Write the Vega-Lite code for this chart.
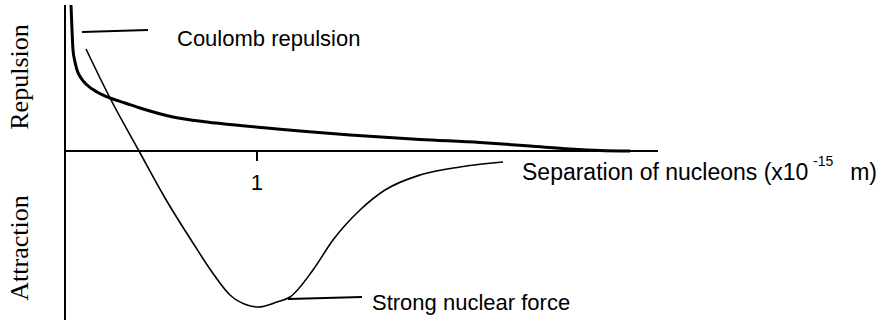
{
  "$schema": "https://vega.github.io/schema/vega-lite/v6.json",
  "width": 883,
  "height": 324,
  "autosize": "none",
  "padding": 0,
  "background": "white",
  "config": {"view": {"stroke": null}},
  "datasets": {
    "coulomb": [
      {"x": 0.03125, "y": 146}, {"x": 0.0365, "y": 121}, {"x": 0.0417, "y": 101},
      {"x": 0.0521, "y": 89}, {"x": 0.0625, "y": 81}, {"x": 0.0833, "y": 73},
      {"x": 0.1146, "y": 66}, {"x": 0.1667, "y": 59}, {"x": 0.2344, "y": 53},
      {"x": 0.3125, "y": 48}, {"x": 0.3906, "y": 43}, {"x": 0.5625, "y": 34},
      {"x": 0.7396, "y": 29}, {"x": 0.9115, "y": 25.5}, {"x": 1.0521, "y": 23},
      {"x": 1.2240, "y": 20}, {"x": 1.4844, "y": 16}, {"x": 1.849, "y": 11.5},
      {"x": 2.1615, "y": 8.5}, {"x": 2.4219, "y": 5}, {"x": 2.6302, "y": 2},
      {"x": 2.7865, "y": 0.5}, {"x": 2.9427, "y": 0}
    ],
    "strong": [
      {"x": 0.1094, "y": 102}, {"x": 0.2344, "y": 53}, {"x": 0.3854, "y": 0},
      {"x": 0.5208, "y": -47}, {"x": 0.6667, "y": -92}, {"x": 0.7656, "y": -121},
      {"x": 0.8594, "y": -144}, {"x": 0.9479, "y": -154}, {"x": 1.0052, "y": -156},
      {"x": 1.1042, "y": -151}, {"x": 1.1719, "y": -146}, {"x": 1.2917, "y": -119},
      {"x": 1.3958, "y": -89}, {"x": 1.5365, "y": -59}, {"x": 1.6667, "y": -39},
      {"x": 1.849, "y": -24}, {"x": 2.0573, "y": -16}, {"x": 2.2813, "y": -11}
    ],
    "rules": [
      {"x": 0, "x2": 0, "y": 146, "y2": -169},
      {"x": 0, "x2": 3.0885, "y": 0, "y2": 0},
      {"x": 1, "x2": 1, "y": 0, "y2": -10},
      {"x": 0.0885, "x2": 0.4323, "y": 119, "y2": 121},
      {"x": 1.1615, "x2": 1.5469, "y": -148, "y2": -146}
    ],
    "sansLeft": [
      {"x": 0.5833, "y": 105, "label": "Coulomb repulsion"},
      {"x": 1.599, "y": -159, "label": "Strong nuclear force"}
    ],
    "axisTitle": [
      {"x": 2.3802, "y": -29, "label": "Separation of nucleons (x10"}
    ],
    "sansRight": [
      {"x": 4.229, "y": -29, "label": "m)"}
    ],
    "sansCenter": [
      {"x": 1.0, "y": -39, "label": "1"}
    ],
    "superscript": [
      {"x": 3.896, "y": -15, "label": "-15"}
    ],
    "serif": [
      {"x": -0.1927, "y": 74, "label": "Repulsion"},
      {"x": -0.1927, "y": -97, "label": "Attraction"}
    ]
  },
  "encoding": {
    "x": {"field": "x", "type": "quantitative", "scale": {"domain": [-0.33854, 4.26042], "nice": false, "zero": false}, "axis": null},
    "y": {"field": "y", "type": "quantitative", "scale": {"domain": [-173, 151], "nice": false, "zero": false}, "axis": null}
  },
  "layer": [
    {
      "data": {"name": "rules"},
      "mark": {"type": "rule", "color": "black", "strokeWidth": 2},
      "encoding": {"x2": {"field": "x2"}, "y2": {"field": "y2"}}
    },
    {
      "data": {"name": "coulomb"},
      "mark": {"type": "line", "color": "black", "strokeWidth": 3, "interpolate": "monotone"}
    },
    {
      "data": {"name": "strong"},
      "mark": {"type": "line", "color": "black", "strokeWidth": 1.6, "interpolate": "monotone"}
    },
    {
      "data": {"name": "sansLeft"},
      "mark": {"type": "text", "font": "Liberation Sans", "fontSize": 22, "align": "left", "baseline": "alphabetic", "color": "black"},
      "encoding": {"text": {"field": "label"}}
    },
    {
      "data": {"name": "axisTitle"},
      "mark": {"type": "text", "font": "Liberation Sans", "fontSize": 23, "align": "left", "baseline": "alphabetic", "color": "black"},
      "encoding": {"text": {"field": "label"}}
    },
    {
      "data": {"name": "sansRight"},
      "mark": {"type": "text", "font": "Liberation Sans", "fontSize": 23, "align": "right", "baseline": "alphabetic", "color": "black"},
      "encoding": {"text": {"field": "label"}}
    },
    {
      "data": {"name": "sansCenter"},
      "mark": {"type": "text", "font": "Liberation Sans", "fontSize": 22, "align": "center", "baseline": "alphabetic", "color": "black"},
      "encoding": {"text": {"field": "label"}}
    },
    {
      "data": {"name": "superscript"},
      "mark": {"type": "text", "font": "Liberation Sans", "fontSize": 14, "align": "left", "baseline": "alphabetic", "color": "black"},
      "encoding": {"text": {"field": "label"}}
    },
    {
      "data": {"name": "serif"},
      "mark": {"type": "text", "font": "Liberation Serif", "fontSize": 26, "align": "center", "baseline": "alphabetic", "angle": 270, "color": "black"},
      "encoding": {"text": {"field": "label"}}
    }
  ]
}
